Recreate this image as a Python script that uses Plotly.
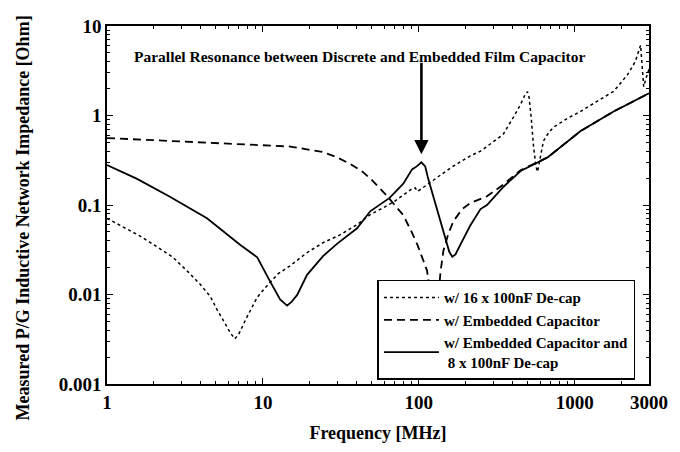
import math
import plotly.graph_objects as go

# ---------------- data ----------------
freq_decap = [1, 1.3, 1.63, 2.1, 2.65, 3.3, 3.96, 4.6, 5.1, 5.7, 6.2, 6.6, 7.0, 7.9, 9.2,
              10.3, 11.1, 12.5, 15, 19, 24.4, 31, 40, 48.8, 59, 70, 80, 90.6, 95, 98, 103,
              119, 131, 160, 214, 249, 320, 349, 405, 450, 480, 498, 510, 525, 545, 565,
              578, 600, 631, 680, 732, 900, 1092, 1400, 1780, 2187, 2450, 2650, 2720,
              2773, 2870, 3000]
z_decap = [0.071, 0.056, 0.045, 0.034, 0.026, 0.018, 0.013, 0.0095, 0.0067, 0.0048, 0.0037,
           0.0032, 0.0036, 0.0056, 0.0093, 0.0118, 0.0135, 0.017, 0.021, 0.029, 0.038,
           0.046, 0.06, 0.078, 0.093, 0.11, 0.13, 0.152, 0.155, 0.142, 0.15, 0.18, 0.205,
           0.26, 0.354, 0.40, 0.55, 0.62, 0.96, 1.33, 1.7, 1.85, 1.6, 1.0, 0.45, 0.27,
           0.235, 0.32, 0.52, 0.64, 0.74, 0.93, 1.11, 1.45, 1.86, 2.86, 4.0, 6.1, 3.5,
           2.1, 2.6, 3.3]

freq_embedded = [1, 2, 3.4, 6, 9.2, 15, 24.4, 30, 36, 43, 49, 56, 63, 70, 79.6, 90, 98,
                 106, 113, 118, 122, 126, 130, 133, 138, 144, 155, 167, 190, 214, 274,
                 350, 450, 670, 1092, 1780, 3000]
z_embedded = [0.56, 0.53, 0.51, 0.49, 0.47, 0.45, 0.39, 0.34, 0.29, 0.24, 0.197, 0.155,
              0.125, 0.1, 0.077, 0.05, 0.036, 0.025, 0.0185, 0.011, 0.0065, 0.0045,
              0.0055, 0.009, 0.018, 0.031, 0.048, 0.066, 0.09, 0.105, 0.125, 0.17, 0.245,
              0.34, 0.67, 1.11, 1.77]

freq_combo = [1, 1.56, 2.5, 4.38, 7.14, 9.2, 11.1, 12.9, 14.3, 15.2, 16.6, 19.2, 24.4, 30,
              40.2, 48.8, 65, 79.6, 90.6, 97, 104, 110, 115, 123, 131, 140, 148, 157, 164,
              172, 185, 214, 249, 274, 350, 450, 670, 1092, 1780, 3000]
z_combo = [0.28, 0.196, 0.125, 0.071, 0.036, 0.026, 0.0141, 0.0088, 0.0075, 0.0082, 0.0099,
           0.0166, 0.027, 0.037, 0.055, 0.085, 0.12, 0.173, 0.25, 0.27, 0.30, 0.27, 0.196,
           0.13, 0.092, 0.06, 0.0425, 0.03, 0.0264, 0.028, 0.036, 0.059, 0.09, 0.1, 0.16,
           0.24, 0.34, 0.67, 1.11, 1.77]

series_names = ["w/ 16 x 100nF De-cap",
                "w/ Embedded Capacitor",
                "w/ Embedded Capacitor and<br> 8 x 100nF De-cap"]

x_tick_vals = [1, 10, 100, 1000, 3000]
x_tick_text = ["1", "10", "100", "1000", "3000"]
y_tick_vals = [0.001, 0.01, 0.1, 1, 10]
y_tick_text = ["0.001", "0.01", "0.1", "1", "10"]

x_title = "Frequency [MHz]"
y_title = "Measured P/G Inductive Network Impedance [Ohm]"
note_text = "Parallel Resonance between Discrete and Embedded Film Capacitor"

# ---------------- figure ----------------
FONT = "Liberation Serif, Times New Roman, serif"

fig = go.Figure()
fig.add_trace(go.Scatter(x=freq_decap, y=z_decap, mode="lines", name=series_names[0],
                         line=dict(color="black", width=1.5, dash="dot")))
fig.add_trace(go.Scatter(x=freq_embedded, y=z_embedded, mode="lines", name=series_names[1],
                         line=dict(color="black", width=1.8, dash="8px,5px")))
fig.add_trace(go.Scatter(x=freq_combo, y=z_combo, mode="lines", name=series_names[2],
                         line=dict(color="black", width=1.8)))

minor_x = [m * 10 ** d for d in range(0, 4) for m in range(2, 10) if m * 10 ** d < 3000]
minor_y = [m * 10.0 ** d for d in range(-3, 1) for m in range(2, 10)]

axis_common = dict(
    showline=True, linecolor="black", linewidth=1.6, mirror="ticks",
    ticks="inside", ticklen=6, tickwidth=1.3, tickcolor="black",
    showgrid=False, zeroline=False,
    tickfont=dict(family=FONT, size=19, color="black", weight="bold"),
)

fig.update_xaxes(
    type="log", range=[0, math.log10(3000)],
    tickmode="array", tickvals=x_tick_vals, ticktext=x_tick_text,
    minor=dict(tickmode="array", tickvals=minor_x, ticks="inside", ticklen=3,
               tickwidth=1, tickcolor="black", showgrid=False),
    title=dict(text=x_title, font=dict(family=FONT, size=18, color="black", weight="bold"),
               standoff=15),
    **axis_common,
)
fig.update_yaxes(
    type="log", range=[-3, 1],
    tickmode="array", tickvals=y_tick_vals, ticktext=y_tick_text,
    minor=dict(tickmode="array", tickvals=minor_y, ticks="inside", ticklen=3,
               tickwidth=1, tickcolor="black", showgrid=False),
    **axis_common,
)

# y-axis title as a rotated annotation (sits a little below the plot's centre, as in the source)
fig.add_annotation(x=-0.155, y=0.465, xref="paper", yref="paper", text=y_title,
                   textangle=-90, showarrow=False, xanchor="center", yanchor="middle",
                   font=dict(family=FONT, size=18, color="black", weight="bold"))

# arrow pointing to the resonance peak of the combined curve
i_peak = max(range(len(z_combo)), key=lambda i: z_combo[i] if 50 < freq_combo[i] < 200 else -1)
peak_x = math.log10(freq_combo[i_peak])
peak_y = math.log10(z_combo[i_peak])

fig.add_annotation(x=peak_x, y=peak_y + 0.09, xref="x", yref="y", text="",
                   showarrow=True, ax=0, ay=-93, arrowhead=2, arrowsize=1.1,
                   arrowwidth=2.6, arrowcolor="black", standoff=0)
fig.add_annotation(x=0.466, y=0.914, xref="paper", yref="paper", text=note_text,
                   showarrow=False, xanchor="center", yanchor="middle",
                   font=dict(family=FONT, size=15.5, color="black", weight="bold"))

fig.update_layout(
    width=680, height=452,
    margin=dict(l=107, r=30, t=26, b=65),
    paper_bgcolor="white", plot_bgcolor="white",
    showlegend=True,
    legend=dict(x=0.499, y=0.012, xanchor="left", yanchor="bottom",
                bgcolor="white", bordercolor="black", borderwidth=1.5,
                font=dict(family=FONT, size=15, color="black", weight="bold"),
                tracegroupgap=0, itemwidth=55),
)

fig.write_html("out.html")
